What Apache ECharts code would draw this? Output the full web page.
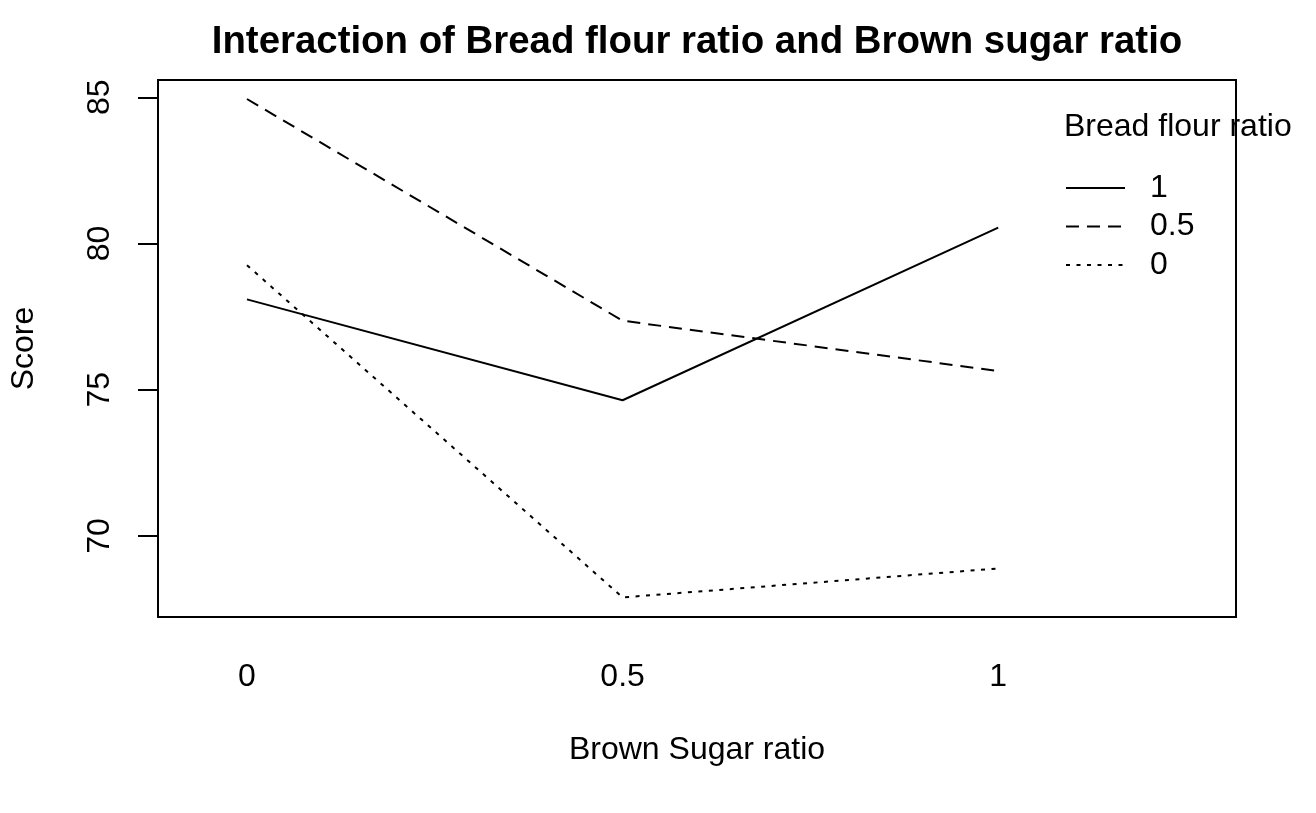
<!DOCTYPE html>
<html>
<head>
<meta charset="utf-8">
<script src="https://cdn.jsdelivr.net/npm/echarts@6/dist/echarts.min.js"></script>
<style>
html,body{margin:0;padding:0;background:#fff;}
#chart{width:1316px;height:813px;}
</style>
</head>
<body>
<div id="chart"></div>
<script>
// Data (interaction plot)
var sugarLevels = [0, 0.5, 1];           // Brown Sugar ratio (x)
var flourNames = ['1', '0.5', '0'];      // Bread flour ratio (traces)
var flour1 = [78.09, 74.64, 80.54];
var flour05 = [84.94, 77.36, 75.64];
var flour0 = [79.26, 67.90, 68.89];
var yTicks = [70, 75, 80, 85];
var xTicks = [0, 0.5, 1];

var FONT = '"Liberation Sans", Arial, Helvetica, sans-serif';

function pairs(vals) {
  return sugarLevels.map(function (x, i) { return [x, vals[i]]; });
}

var dashTypes = ['solid', [13, 8], [4, 6.5]];
var seriesVals = [flour1, flour05, flour0];

var chart = echarts.init(document.getElementById('chart'), null, { renderer: 'canvas' });
chart.setOption({
  backgroundColor: '#ffffff',
  animation: false,
  title: {
    text: 'Interaction of Bread flour ratio and Brown sugar ratio',
    left: 697,
    textAlign: 'center',
    top: 23,
    padding: 0,
    textStyle: { fontFamily: FONT, fontSize: 38.4, fontWeight: 'bold', color: '#000' }
  },
  grid: {
    left: 157, right: 80, top: 80, bottom: 196,
    show: true, borderColor: '#000', borderWidth: 2, backgroundColor: 'transparent'
  },
  legend: {
    orient: 'vertical',
    left: 1065,
    top: 168.75,
    padding: 0,
    itemGap: 0,
    itemWidth: 59,
    itemHeight: 14,
    data: flourNames,
    selectedMode: false,
    itemStyle: { color: 'rgba(0,0,0,0)', borderWidth: 0, opacity: 0 },
    textStyle: { fontFamily: FONT, fontSize: 32, color: '#000', lineHeight: 38.5, padding: [0, 0, 0, 20] }
  },
  graphic: [{
    type: 'text',
    left: 1064,
    top: 127 - 19,
    style: { text: 'Bread flour ratio', font: '32px ' + FONT, fill: '#000', lineHeight: 38 }
  }],
  xAxis: {
    type: 'value',
    min: -0.1184,
    max: 1.3165,
    name: 'Brown Sugar ratio',
    nameLocation: 'middle',
    nameGap: 117,
    nameTextStyle: { fontFamily: FONT, fontSize: 32, color: '#000' },
    axisLine: { show: false, onZero: false },
    axisTick: { show: false },
    splitLine: { show: false },
    axisLabel: {
      customValues: xTicks,
      margin: 44,
      fontFamily: FONT, fontSize: 32, color: '#000'
    }
  },
  yAxis: {
    type: 'value',
    min: 67.23,
    max: 85.59,
    name: 'Score',
    nameLocation: 'middle',
    nameGap: 118,
    nameTextStyle: { fontFamily: FONT, fontSize: 32, color: '#000' },
    axisLine: { show: false, onZero: false },
    splitLine: { show: false },
    axisTick: {
      show: true, customValues: yTicks, length: 20, inside: false,
      lineStyle: { color: '#000', width: 2 }
    },
    axisLabel: {
      customValues: yTicks,
      rotate: 90,
      margin: 41.5,
      fontFamily: FONT, fontSize: 32, color: '#000'
    }
  },
  series: seriesVals.map(function (vals, i) {
    return {
      name: flourNames[i],
      type: 'line',
      data: pairs(vals),
      symbol: 'none',
      lineStyle: { color: '#000', width: 2, type: dashTypes[i] },
      itemStyle: { color: '#000' },
      emphasis: { disabled: true }
    };
  })
});
</script>
</body>
</html>
